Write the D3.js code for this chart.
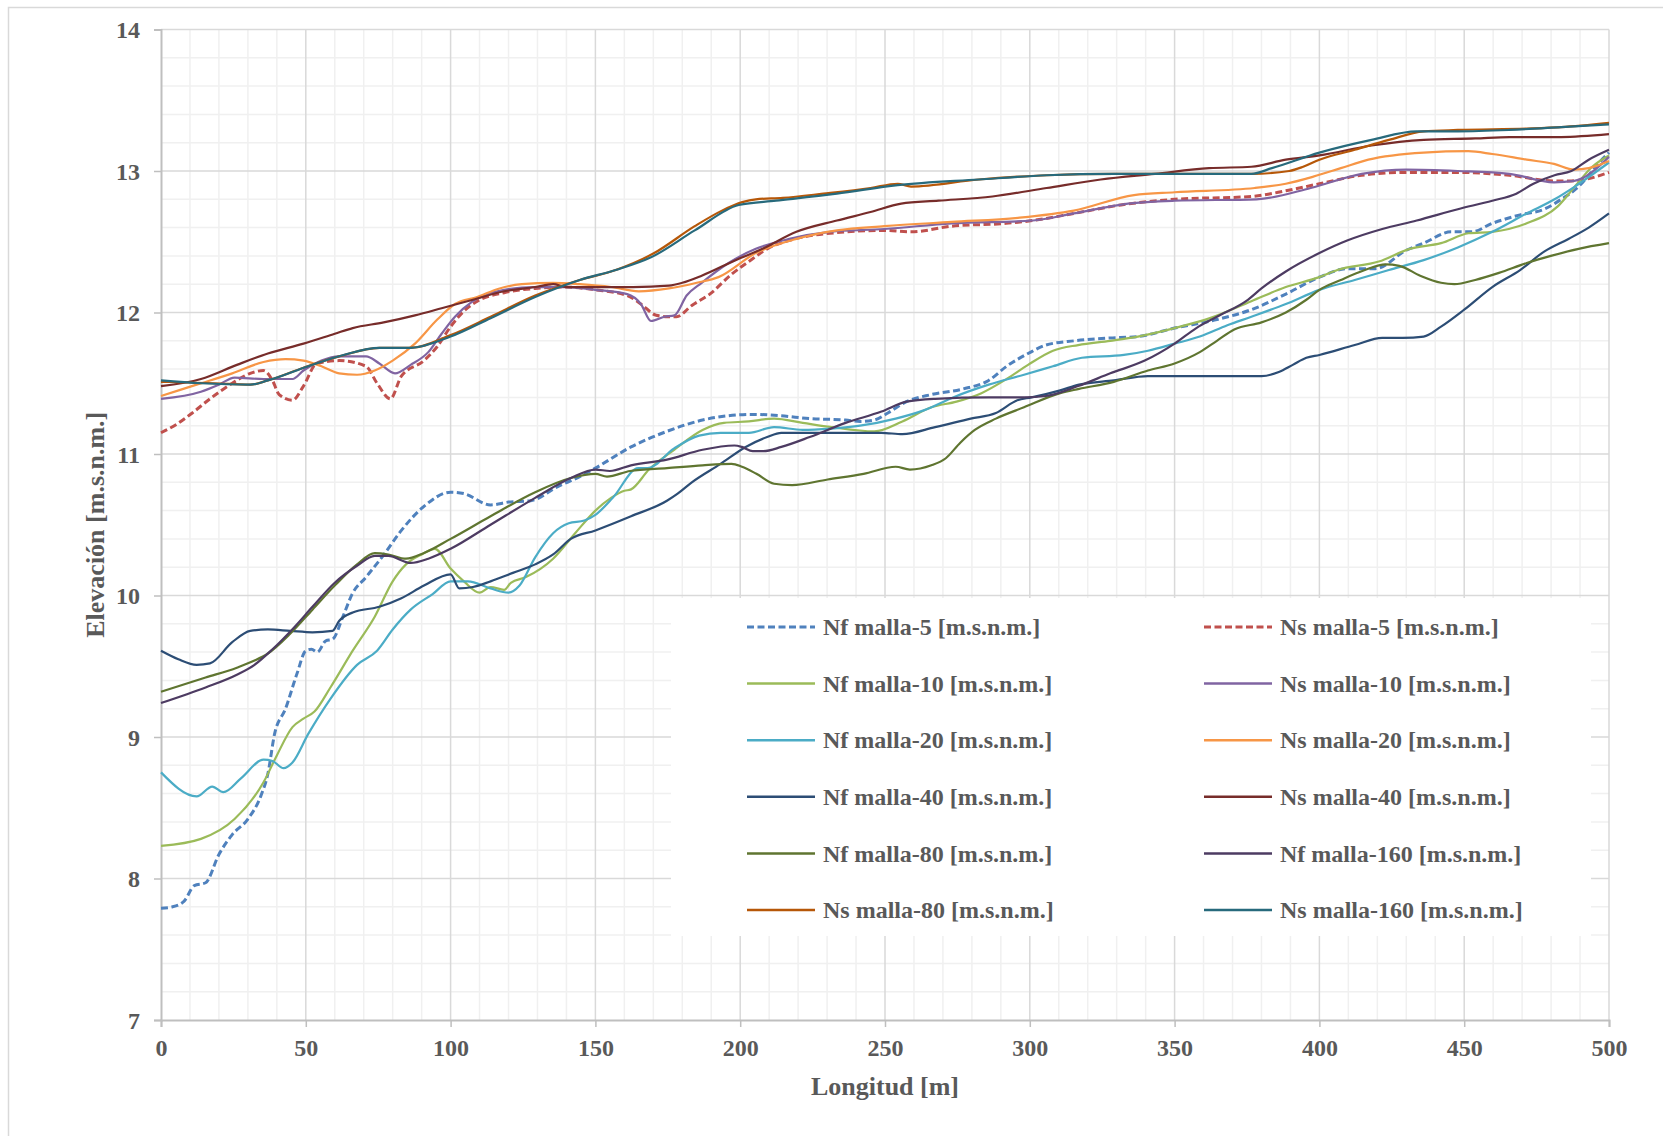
<!DOCTYPE html>
<html><head><meta charset="utf-8">
<script src="https://cdn.jsdelivr.net/npm/d3@7"></script>
<style>
html,body{margin:0;padding:0;background:#fff;}
svg text{font-family:"Liberation Serif","Times New Roman",serif;font-weight:bold;fill:#595959;}
</style></head>
<body>
<svg id="chart" width="1663" height="1136"></svg>
<script>
// ---- data (Longitud [m], Elevación [m.s.n.m.]) ----
const xTicks = [0,50,100,150,200,250,300,350,400,450,500];
const yTicks = [7,8,9,10,11,12,13,14];
const seriesNames = ["Nf malla-5 [m.s.n.m.]","Ns malla-5 [m.s.n.m.]","Nf malla-10 [m.s.n.m.]","Ns malla-10 [m.s.n.m.]","Nf malla-20 [m.s.n.m.]","Ns malla-20 [m.s.n.m.]","Nf malla-40 [m.s.n.m.]","Ns malla-40 [m.s.n.m.]","Nf malla-80 [m.s.n.m.]","Nf malla-160 [m.s.n.m.]","Ns malla-80 [m.s.n.m.]","Ns malla-160 [m.s.n.m.]"];
const seriesColors = ["#4F81BD","#C0504D","#9BBB59","#8064A2","#4BACC6","#F79646","#2C4D75","#772C2A","#5F7530","#4D3B62","#B65708","#276A7C"];
const seriesDashed = [true,true,false,false,false,false,false,false,false,false,false,false];

const nf5 = [[0,7.79],[4,7.80],[8,7.84],[11.5,7.95],[15.4,7.97],[20,8.17],[24.6,8.31],[30,8.42],[34.6,8.59],[36.9,8.74],[39.2,9.02],[43,9.2],[47,9.45],[50,9.61],[52,9.62],[54,9.60],[56.9,9.68],[59.2,9.69],[63,9.86],[66,10.01],[70.8,10.13],[77,10.29],[83,10.46],[90.8,10.63],[100,10.73],[104.6,10.72],[113.8,10.64],[120,10.66],[127.7,10.67],[137,10.77],[144.6,10.84],[150,10.90],[162.3,11.05],[174.7,11.16],[187,11.24],[195.7,11.27],[204.3,11.28],[214,11.27],[224,11.25],[236.4,11.24],[241.4,11.23],[246.3,11.24],[251,11.29],[257.4,11.37],[266,11.42],[277,11.46],[285.8,11.52],[292,11.62],[299.4,11.71],[305.6,11.77],[315.4,11.80],[327.8,11.82],[337.3,11.83],[350,11.89],[364.6,11.95],[376.5,12.02],[388.4,12.13],[400,12.25],[409.8,12.31],[419.3,12.31],[430,12.44],[436,12.49],[445.5,12.57],[452.6,12.57],[459.7,12.63],[469.3,12.69],[477.6,12.73],[483.5,12.80],[489.5,12.89],[493,12.97],[496.6,13.06],[500,13.13]];
const ns5 = [[0,11.15],[5.4,11.21],[10.8,11.29],[16.9,11.39],[24.6,11.50],[30.8,11.57],[35.4,11.59],[38.5,11.52],[40.8,11.42],[45.4,11.38],[49.2,11.48],[53.8,11.64],[61.5,11.66],[70.8,11.62],[74.6,11.50],[79.2,11.39],[83,11.55],[90.8,11.66],[95.4,11.76],[100,11.90],[104.6,12.01],[109.2,12.08],[118.5,12.14],[129.2,12.17],[140,12.18],[150,12.16],[161,12.12],[165.7,12.06],[171,11.98],[175,11.97],[178,11.97],[183.3,12.05],[189.5,12.13],[197,12.27],[204.3,12.38],[209.3,12.45],[217,12.51],[231,12.56],[249.8,12.58],[259,12.57],[273,12.61],[291.8,12.63],[301,12.65],[315.2,12.70],[331.5,12.76],[350,12.80],[376.5,12.82],[388.4,12.86],[400,12.91],[414.6,12.97],[430,12.99],[447.8,12.99],[465.6,12.97],[481,12.93],[487,12.93],[500,12.99]];
const nf10 = [[0,8.23],[13.8,8.28],[25.4,8.42],[35.4,8.68],[40,8.87],[45.4,9.07],[49.2,9.13],[53,9.18],[58.5,9.35],[66.2,9.61],[73.8,9.85],[80,10.10],[84.6,10.22],[90,10.29],[94.6,10.33],[100,10.19],[104.6,10.10],[110,10.02],[113.8,10.06],[118.5,10.04],[120.8,10.09],[126,10.13],[135.4,10.26],[143,10.44],[150,10.60],[155.4,10.69],[160,10.74],[162.3,10.75],[168.5,10.89],[177.2,11.03],[187,11.17],[194.4,11.22],[203,11.23],[211.7,11.25],[221.6,11.22],[231.5,11.19],[246.3,11.16],[256,11.23],[266,11.33],[274.7,11.37],[283.3,11.43],[292,11.53],[299.4,11.63],[308,11.73],[316.7,11.77],[327.8,11.80],[337.3,11.83],[350,11.89],[362.2,11.96],[376.5,12.08],[388.4,12.18],[400,12.25],[406.2,12.30],[420.5,12.36],[431.2,12.45],[442,12.49],[451.5,12.56],[459.7,12.57],[471.6,12.63],[482.3,12.75],[488.2,12.89],[494.2,13.03],[500,13.11]];
const ns10 = [[0,11.39],[13.8,11.44],[20,11.49],[25.4,11.54],[35.4,11.53],[45.4,11.53],[49.2,11.59],[55.4,11.66],[61.5,11.69],[70.8,11.69],[75.4,11.64],[80.8,11.57],[86.2,11.63],[92.3,11.72],[96.9,11.85],[101.5,11.97],[107.7,12.08],[118.5,12.16],[129.2,12.18],[140,12.18],[150,12.16],[161,12.13],[165.7,12.06],[169.2,11.94],[173.8,11.97],[177.3,11.98],[181.5,12.12],[186.7,12.21],[196,12.35],[205.4,12.45],[217,12.52],[231,12.57],[249.8,12.59],[273,12.63],[301,12.65],[315.2,12.70],[333.9,12.77],[350,12.79],[378.3,12.80],[397,12.88],[414.6,12.98],[430,13.01],[447.8,13.0],[465.6,12.98],[481,12.92],[488,12.93],[500,13.10]];
const nf20 = [[0,8.75],[12.3,8.58],[17.7,8.65],[21.5,8.61],[27.7,8.71],[35.4,8.84],[38.5,8.83],[42.3,8.78],[45.4,8.82],[50.8,9.02],[58.5,9.27],[67.7,9.51],[74.6,9.61],[80,9.76],[86.2,9.90],[93.8,10.01],[100,10.10],[106,10.10],[113.8,10.05],[120,10.02],[123.8,10.07],[129.2,10.27],[135.4,10.44],[140.8,10.51],[146.2,10.53],[150,10.57],[156,10.69],[164.8,10.90],[168,10.90],[177.2,11.04],[185.8,11.13],[193.2,11.15],[203,11.15],[211.7,11.19],[221.6,11.17],[231.5,11.18],[241.4,11.20],[253.7,11.25],[263.6,11.31],[273.5,11.40],[285.8,11.49],[298,11.56],[308,11.62],[318,11.68],[332.5,11.70],[340.8,11.73],[350,11.78],[358.7,11.83],[368.2,11.91],[376.5,11.97],[388.4,12.06],[400,12.16],[412.2,12.23],[424,12.30],[436,12.37],[447.8,12.46],[459.7,12.57],[471.6,12.70],[481.2,12.80],[488.2,12.89],[500,13.06]];
const ns20 = [[0,11.41],[12.3,11.49],[24.6,11.57],[35.4,11.65],[43,11.67],[49.2,11.66],[55.4,11.62],[61.5,11.57],[67.7,11.56],[73.8,11.59],[80,11.66],[87.7,11.78],[95.4,11.95],[101.5,12.06],[109.2,12.11],[116.9,12.17],[124.6,12.20],[135.4,12.21],[144.6,12.20],[155.4,12.18],[165,12.15],[175.4,12.17],[185,12.21],[192.5,12.25],[205.4,12.42],[219.4,12.52],[233.4,12.58],[249.8,12.61],[273,12.64],[296.5,12.67],[315.2,12.72],[336,12.83],[350,12.85],[377.7,12.88],[388.4,12.91],[397.9,12.96],[407.4,13.02],[416.9,13.08],[436,13.13],[451.4,13.14],[459.7,13.12],[471.6,13.08],[481,13.05],[488,13.01],[493,13.02],[500,13.07]];
const nf40 = [[0,9.61],[6,9.55],[12.3,9.51],[16.9,9.52],[24.6,9.67],[30.8,9.75],[36.9,9.76],[44.6,9.75],[52.3,9.74],[59.2,9.75],[61.5,9.82],[66.2,9.88],[75.4,9.92],[83,9.98],[90.8,10.07],[100,10.15],[103,10.05],[107.7,10.06],[113.8,10.10],[121.5,10.16],[129.2,10.22],[135.4,10.29],[141.5,10.40],[150,10.46],[162.3,10.56],[174.7,10.67],[178.4,10.72],[183.3,10.80],[193.2,10.93],[201.9,11.05],[209.3,11.12],[214.2,11.15],[224,11.15],[236.4,11.15],[248.8,11.15],[256,11.14],[267.3,11.19],[279.6,11.25],[288.3,11.29],[295.7,11.38],[300.6,11.40],[310.5,11.45],[317,11.49],[329,11.52],[340.8,11.55],[350,11.55],[364.6,11.55],[380,11.55],[386,11.58],[390.8,11.63],[395.5,11.68],[400,11.70],[412.2,11.77],[421.7,11.82],[428.8,11.82],[436,11.83],[442,11.90],[450,12.02],[459.7,12.18],[469.3,12.30],[477.6,12.43],[486,12.52],[493,12.60],[500,12.70]];
const ns40 = [[0,11.48],[13.8,11.53],[26.2,11.63],[36.9,11.71],[49.2,11.78],[60,11.85],[66.2,11.89],[76.9,11.93],[87.7,11.98],[96.9,12.03],[107.7,12.09],[118.5,12.15],[129.2,12.18],[135.4,12.20],[140,12.18],[150,12.18],[163,12.18],[175.4,12.19],[180,12.21],[186.7,12.26],[198.4,12.37],[207.7,12.45],[219.4,12.57],[233.4,12.65],[245,12.71],[255.6,12.77],[268.5,12.79],[287.1,12.82],[305.8,12.88],[324.5,12.94],[343.2,12.98],[361.9,13.02],[376.5,13.03],[388.4,13.08],[400,13.11],[418,13.18],[436,13.22],[453.8,13.23],[465.7,13.24],[483.5,13.24],[500,13.26]];
const nf80 = [[0,9.32],[15.4,9.42],[26.2,9.49],[32.3,9.54],[36.9,9.59],[44.6,9.73],[52.3,9.90],[60,10.07],[67.7,10.22],[73.8,10.30],[78.5,10.29],[84.6,10.26],[90.8,10.30],[100,10.40],[113.8,10.56],[129.2,10.73],[141.5,10.83],[150,10.86],[154,10.84],[162,10.88],[174.7,10.90],[187,10.92],[197,10.93],[200.6,10.91],[205.6,10.86],[211.7,10.79],[217.9,10.78],[230.2,10.82],[242.6,10.86],[253.7,10.91],[258.6,10.89],[266,10.92],[271,10.97],[276,11.08],[281,11.17],[288.3,11.25],[298,11.33],[310.5,11.43],[317,11.46],[329,11.51],[340.8,11.59],[350,11.64],[358.7,11.72],[364.6,11.80],[370.6,11.88],[380,11.93],[388.4,12.0],[395.5,12.09],[400,12.16],[407.4,12.23],[415.7,12.30],[422.8,12.34],[427.6,12.33],[434.8,12.26],[442,12.21],[446.6,12.20],[453.8,12.23],[462,12.28],[471.6,12.35],[479.9,12.40],[489.5,12.45],[500,12.49]];
const nf160 = [[0,9.24],[15.4,9.35],[26.2,9.44],[32.3,9.51],[38.5,9.62],[46.2,9.78],[52.3,9.92],[60,10.09],[67.7,10.21],[73.8,10.28],[78.5,10.28],[86.2,10.23],[92.3,10.26],[100,10.33],[113.8,10.50],[129.2,10.69],[141.5,10.83],[150,10.89],[155,10.88],[162.3,10.92],[174.7,10.96],[187,11.03],[198,11.06],[200.6,11.05],[204.3,11.02],[208,11.02],[214.2,11.05],[224,11.12],[236.4,11.22],[248.8,11.30],[257.4,11.37],[267.3,11.39],[285.8,11.40],[298,11.40],[305.6,11.41],[316.7,11.48],[327.8,11.57],[339.7,11.66],[350,11.78],[357.5,11.89],[364.6,11.97],[375.3,12.09],[380,12.17],[388.4,12.29],[400,12.42],[409.8,12.51],[421.7,12.59],[433.6,12.65],[447.8,12.73],[459.7,12.79],[468,12.84],[473.9,12.91],[481.2,12.97],[487,13.0],[493,13.08],[500,13.15]];
const ns80 = [[0,11.51],[18.5,11.50],[30.8,11.49],[36.9,11.52],[49.2,11.61],[61.5,11.69],[75.4,11.75],[86.2,11.75],[100,11.84],[113.8,11.97],[129.2,12.12],[144.6,12.23],[157,12.30],[170.3,12.42],[184.3,12.61],[193.7,12.72],[200.7,12.78],[205.4,12.80],[214.7,12.81],[228.7,12.84],[245,12.88],[254.4,12.91],[259,12.89],[282.4,12.94],[305.8,12.97],[329.2,12.98],[350,12.98],[376.5,12.98],[389.6,13.0],[394.4,13.03],[400,13.08],[412.2,13.15],[424,13.22],[436,13.28],[447.8,13.29],[471.6,13.30],[483.5,13.31],[500,13.34]];
const ns160 = [[0,11.52],[13.8,11.50],[30.8,11.49],[36.9,11.52],[50.8,11.62],[63,11.70],[75.4,11.75],[86.2,11.75],[100,11.83],[113.8,11.96],[129.2,12.11],[144.6,12.23],[157,12.30],[169.2,12.39],[184.3,12.58],[199.5,12.76],[212.4,12.79],[233.4,12.84],[254.4,12.90],[282.4,12.94],[305.8,12.97],[329.2,12.98],[350,12.98],[376.5,12.98],[383.6,13.02],[400,13.13],[418,13.22],[433.6,13.28],[447.8,13.28],[465.6,13.29],[483.5,13.31],[500,13.33]];

const seriesData = [nf5,ns5,nf10,ns10,nf20,ns20,nf40,ns40,nf80,nf160,ns80,ns160];

// ---- layout ----
const svg = d3.select("#chart");
const W = 1663, H = 1136;
const m = {left:161, right:1609, top:29.5, bottom:1020};

svg.append("rect").attr("x",8.5).attr("y",7.5).attr("width",1700).attr("height",1200)
  .attr("fill","#fff").attr("stroke","#D9D9D9").attr("stroke-width",1.5);

const x = d3.scaleLinear().domain([0,500]).range([m.left,m.right]);
const y = d3.scaleLinear().domain([7,14]).range([m.bottom,m.top]);

// minor gridlines
const minorX = d3.range(0,501,10).filter(v=>v%50!==0);
const minorY = d3.range(70,141,2).map(v=>v/10).filter(v=>Math.abs(v-Math.round(v))>1e-6);
const g = svg.append("g");
g.selectAll(".mx").data(minorX).enter().append("line")
  .attr("x1",d=>x(d)).attr("x2",d=>x(d)).attr("y1",m.top).attr("y2",m.bottom)
  .attr("stroke","#F0F0F0").attr("stroke-width",1.5);
g.selectAll(".my").data(minorY).enter().append("line")
  .attr("x1",m.left).attr("x2",m.right).attr("y1",d=>y(d)).attr("y2",d=>y(d))
  .attr("stroke","#F0F0F0").attr("stroke-width",1.5);
// major gridlines
g.selectAll(".Mx").data(xTicks.slice(1)).enter().append("line")
  .attr("x1",d=>x(d)).attr("x2",d=>x(d)).attr("y1",m.top).attr("y2",m.bottom)
  .attr("stroke","#D9D9D9").attr("stroke-width",1.5);
g.selectAll(".My").data(yTicks.slice(1)).enter().append("line")
  .attr("x1",m.left).attr("x2",m.right).attr("y1",d=>y(d)).attr("y2",d=>y(d))
  .attr("stroke","#D9D9D9").attr("stroke-width",1.5);

// axes
const xAxis = d3.axisBottom(x).tickValues(xTicks).tickSize(7).tickPadding(12).tickFormat(d3.format("d"));
const yAxis = d3.axisLeft(y).tickValues(yTicks).tickSize(7).tickPadding(14).tickFormat(d3.format("d"));
const gx = svg.append("g").attr("transform",`translate(0,${m.bottom})`).call(xAxis);
const gy = svg.append("g").attr("transform",`translate(${m.left},0)`).call(yAxis);
[gx,gy].forEach(a=>{
  a.select(".domain").attr("stroke","#BFBFBF").attr("stroke-width",2);
  a.selectAll(".tick line").attr("stroke","#BFBFBF").attr("stroke-width",1.5);
  a.selectAll(".tick text").style("font-size","24px").style("font-family",'"Liberation Serif",serif')
    .style("font-weight","bold").attr("fill","#595959");
});
gx.selectAll(".tick text").attr("dy","0.71em");
gy.selectAll(".tick text").attr("dy","0.34em");

// lines
const line = d3.line().x(d=>x(d[0])).y(d=>y(d[1])).curve(d3.curveMonotoneX);
const lg = svg.append("g");
seriesData.forEach((s,i)=>{
  lg.append("path").datum(s).attr("d",line).attr("fill","none")
    .attr("stroke",seriesColors[i])
    .attr("stroke-width",seriesDashed[i]?3:2.2)
    .attr("stroke-dasharray",seriesDashed[i]?"7,3.5":null)
    .attr("stroke-linejoin","round");
});

// legend
svg.append("rect").attr("x",671).attr("y",598).attr("width",920).attr("height",338).attr("fill","#fff");
const legX = [747,1204], legY0 = 627, legDY = 56.6;
seriesNames.forEach((n,i)=>{
  const col = i%2, row = Math.floor(i/2);
  const lx = legX[col], ly = legY0 + row*legDY;
  svg.append("line").attr("x1",lx).attr("x2",lx+68).attr("y1",ly).attr("y2",ly)
    .attr("stroke",seriesColors[i]).attr("stroke-width",seriesDashed[i]?3:2.5)
    .attr("stroke-dasharray",seriesDashed[i]?"7,3.5":null);
  svg.append("text").attr("x",lx+76).attr("y",ly).attr("dy","0.34em")
    .style("font-size","24px").text(n);
});

// axis titles
svg.append("text").attr("x",(m.left+m.right)/2).attr("y",1095).attr("text-anchor","middle")
  .style("font-size","26px").text("Longitud [m]");
svg.append("text").attr("transform",`translate(104,${(m.top+m.bottom)/2}) rotate(-90)`)
  .attr("text-anchor","middle").style("font-size","26px").text("Elevación [m.s.n.m.]");
</script>
</body></html>
